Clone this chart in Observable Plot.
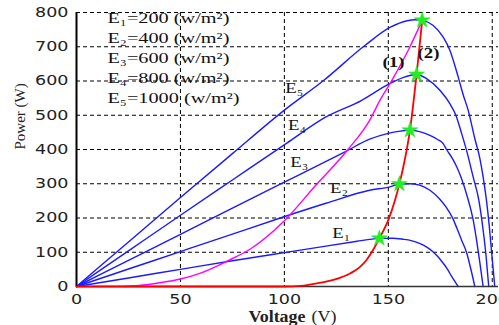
<!DOCTYPE html>
<html>
<head>
<meta charset="utf-8">
<script src="https://cdn.jsdelivr.net/npm/d3@7"></script>
<script src="https://cdn.jsdelivr.net/npm/@observablehq/plot@0.6"></script>
<style>
  html, body { margin: 0; padding: 0; background: #fff; }
  #chart { width: 499px; height: 325px; overflow: hidden; }
</style>
</head>
<body>
<div id="chart"></div>
<script>
// ---- data ----
const xTicks = [0, 50, 100, 150, 200];
const yTicks = [0, 100, 200, 300, 400, 500, 600, 700, 800];

const voltageE1 = [0, 25, 50, 75, 100, 120, 135, 141, 145.7, 152, 157, 161, 165, 168.5, 171.6, 174, 176.4, 178.5, 180.4, 182, 183.6];
const powerE1   = [0, 25, 50, 75, 99, 118, 132, 137.5, 140.5, 141, 138, 134, 126, 115, 101, 86, 68, 50, 30, 15, 0];

const voltageE2 = [0, 25, 50, 75, 98, 120, 141, 150.8, 155.3, 160, 165, 170, 174.8, 178, 181, 183, 185.2, 187.6, 190, 191.6];
const powerE2   = [0, 51, 102, 153, 200, 243, 281, 291, 299, 300, 296, 281, 255, 230, 199, 170, 136, 100, 43, 0];

const voltageE3 = [0, 25, 50, 75, 98, 115, 130, 141, 150, 155, 160.4, 165, 170, 173.5, 176.4, 178, 181, 183, 185.2, 188, 190.8, 193.2, 195.6];
const powerE3   = [0, 76, 152, 229, 299, 350, 396, 430, 447, 453, 456, 452, 441, 430, 417, 400, 372, 348, 315, 262, 195, 105, 0];

const voltageE4 = [0, 25, 50, 75, 101, 120, 137, 150, 157, 163.6, 168.4, 174.8, 179.6, 182.5, 185, 187.6, 190.8, 193.6, 195.5, 197, 198.3];
const powerE4   = [0, 104, 208, 311, 418, 495, 543, 590, 610, 619, 607, 573, 534, 500, 452, 398, 320, 250, 170, 90, 0];

const voltageE5 = [0, 25, 50, 75, 100, 119, 139, 151, 159, 163, 166.3, 171.6, 176.4, 179.6, 183.6, 186, 188.4, 191.6, 194, 195.6, 197.2, 198.5, 199.6, 201.2];
const powerE5   = [0, 130, 260, 388, 515, 602, 705, 757, 776, 779, 777, 762, 728, 690, 612, 560, 515, 432, 375, 320, 252, 180, 106, 0];

// curve (1) magenta
const voltageC1 = [23, 30, 40, 50, 60, 72.4, 84, 100, 115, 130.6, 141, 146, 152, 160, 166.3];
const powerC1   = [0, 3, 11, 22, 40, 74, 111, 192, 295, 400, 485, 544, 605, 695, 777];

// curve (2) red
const voltageC2 = [0, 100, 108, 115.6, 124, 131.6, 136, 139.6, 142.5, 145.7, 150.3, 153.2, 155.3, 157.2, 160.4, 163.6, 166.3];
const powerC2   = [0, 0, 2, 9, 20, 38, 55, 78, 105, 140.5, 199, 252, 299, 349, 456, 619, 777];

// maximum power points (green stars)
const mppVoltage = [145.7, 155.3, 160.4, 163.6, 166.3];
const mppPower   = [140.5, 299, 456, 619, 777];

const curveNames = ["E\u2081", "E\u2082", "E\u2083", "E\u2084", "E\u2085"];
const irradianceLines = [
  "E\u2081=200 (w/m\u00B2)",
  "E\u2082=400 (w/m\u00B2)",
  "E\u2083=600 (w/m\u00B2)",
  "E\u2084=800 (w/m\u00B2)",
  "E\u2085=1000 (w/m\u00B2)"
];
const xLabel = "Voltage";
const xUnit = "(V)";
const yLabel = "Power (W)";

// ---- build tables ----
const zip = (vs, ps) => vs.map((v, i) => ({v, p: ps[i]}));
const curves = [
  zip(voltageE1, powerE1), zip(voltageE2, powerE2), zip(voltageE3, powerE3),
  zip(voltageE4, powerE4), zip(voltageE5, powerE5)
];
const c1 = zip(voltageC1, powerC1);
const c2 = zip(voltageC2, powerC2);
const mpp = zip(mppVoltage, mppPower);

// label anchor positions (annotation layout)
const curveLabelPos = [[123, 156], [122, 287], [102.8, 363], [101.8, 471], [100.4, 579]];
const curveLabels = curveNames.map((t, i) => ({t, v: curveLabelPos[i][0], p: curveLabelPos[i][1]}));

const serif = "'Liberation Serif', 'Times New Roman', serif";
const sans = "'DejaVu Sans', sans-serif";
const blue = "#1a1aff";
const dash = {stroke: "#000", strokeWidth: 1, strokeDasharray: "4,3", strokeOpacity: 1};

const chart = Plot.plot({
  width: 499,
  height: 325,
  marginLeft: 76,
  marginRight: 1,
  marginTop: 12,
  marginBottom: 39,
  style: {background: "#fff", overflow: "visible"},
  x: {domain: [0, 203], axis: null},
  y: {domain: [0, 800], axis: null},
  marks: [
    Plot.ruleX(xTicks.filter(d => d > 0), dash),
    Plot.ruleY(yTicks.filter(d => d > 0), dash),
    Plot.axisX({ticks: xTicks, tickSize: 0, tickPadding: 8, fontSize: 14, fontFamily: sans, fill: "#222", label: null, className: "tickx"}),
    Plot.axisY({ticks: yTicks, tickSize: 0, tickPadding: 8, fontSize: 14, fontFamily: sans, fill: "#222", label: null, className: "ticky"}),
    ...curves.map(c => Plot.line(c, {x: "v", y: "p", stroke: blue, strokeWidth: 1.4, curve: "monotone-x"})),
    Plot.ruleY([0], {stroke: "#333", strokeWidth: 1.5}),
    Plot.ruleX([0], {stroke: "#000", strokeWidth: 2}),
    Plot.line(c1, {x: "v", y: "p", stroke: "#ff00ff", strokeWidth: 1.4, curve: "monotone-x"}),
    Plot.line(c2, {x: "v", y: "p", stroke: "#ff0000", strokeWidth: 1.8, curve: "monotone-x"}),
    Plot.dot(mpp, {x: "v", y: "p", symbol: "star", r: 5, fill: "#22ee22", stroke: "#22ee22", strokeWidth: 0.5}),
    Plot.text(curveLabels, {x: "v", y: "p", text: "t", textAnchor: "start", fontSize: 15, fontFamily: serif, fill: "#111", className: "lab"}),
    Plot.text(["(1)"], {x: () => 152.5, y: () => 654, fontSize: 15, fontWeight: "bold", fontFamily: serif, fill: "#111", className: "lab"}),
    Plot.text(["(2)"], {x: () => 169.3, y: () => 681, fontSize: 15, fontWeight: "bold", fontFamily: serif, fill: "#111", className: "lab"}),
    ...irradianceLines.map((t, i) => Plot.text([t], {frameAnchor: "top-left", textAnchor: "start", lineAnchor: "middle", dx: 31, dy: 6 + i * 19.8, fontSize: 15, fontFamily: serif, fill: "#111", className: "legend"})),
    Plot.text([yLabel], {frameAnchor: "left", rotate: -90, dx: -56, fontSize: 15, fontFamily: serif, fill: "#222"}),
    Plot.text([xLabel], {frameAnchor: "bottom", textAnchor: "end", lineAnchor: "middle", dx: 18, dy: 30, fontSize: 16, fontWeight: "bold", fontFamily: serif, fill: "#222", className: "xlab"}),
    Plot.text([xUnit], {frameAnchor: "bottom", textAnchor: "start", lineAnchor: "middle", dx: 24, dy: 30, fontSize: 16, fontFamily: serif, fill: "#222", className: "xlab"})
  ]
});

document.getElementById("chart").appendChild(chart);

// widen glyphs horizontally to match the reference's stretched lettering
function stretch(cls, k) {
  chart.querySelectorAll("." + cls + " text").forEach(t => {
    const w = t.getComputedTextLength();
    t.setAttribute("textLength", (w * k).toFixed(1));
    t.setAttribute("lengthAdjust", "spacingAndGlyphs");
  });
}
stretch("tickx", 1.25);
stretch("ticky", 1.25);
stretch("legend", 1.35);
stretch("lab", 1.25);
stretch("xlab", 1.12);
</script>
</body>
</html>
